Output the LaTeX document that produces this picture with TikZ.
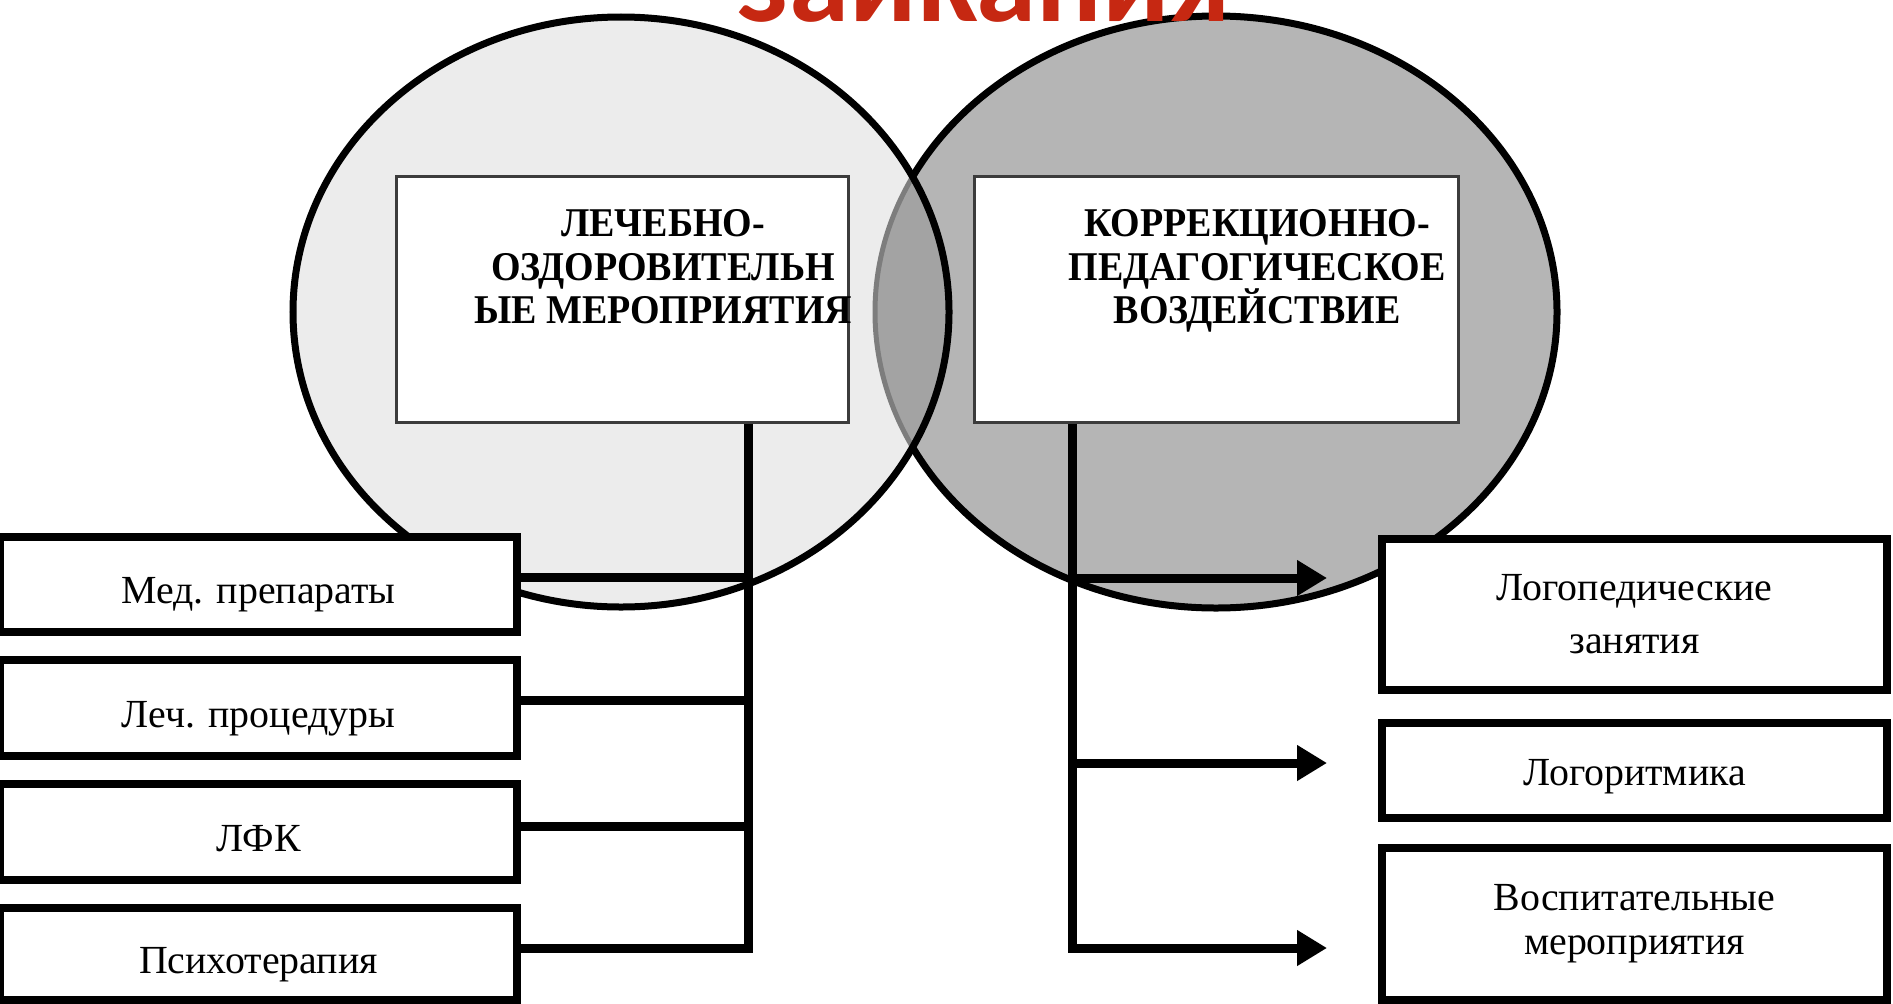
\documentclass[tikz,border=0pt]{standalone}
\usepackage{fontspec}
\setmainfont{Liberation Serif}
\newfontfamily\headfont[FakeStretch=0.93]{Liberation Serif}
\newfontfamily\titlefont{Carlito}
\usetikzlibrary{arrows.meta}
\definecolor{lightfill}{RGB}{236,236,236}
\definecolor{darkfill}{RGB}{181,181,181}
\definecolor{lensfill}{RGB}{163,163,163}
\definecolor{lensedge}{RGB}{125,125,125}
\definecolor{titlered}{RGB}{198,40,18}
\definecolor{framegray}{RGB}{60,60,60}
\tikzset{
  headbox/.style={draw=framegray, line width=3bp, fill=white, rectangle, inner sep=0pt},
  headtext/.style={align=center, inner sep=0pt, anchor=north,
    font=\headfont\bfseries\fontsize{41}{44}\selectfont},
  itembox/.style={draw=black, line width=8bp, fill=white, rectangle, inner sep=0pt,
    align=center, font=\fontsize{40}{48}\selectfont},
  lowtext/.style={text height=38bp, text depth=0bp},
  midtext/.style={text height=29bp, text depth=0bp},
  link/.style={draw=black, line width=9bp},
  arrowlink/.style={link, -{Triangle[length=30bp,width=34bp]}},
  outline/.style={draw=black, line width=7bp},
  leftell/.style={x radius=328bp, y radius=295bp},
  rightell/.style={x radius=341bp, y radius=296bp}
}
\begin{document}
\begin{tikzpicture}[x=1bp,y=-1bp]
\useasboundingbox (0,0) rectangle (1893,1003);
\clip (0,0) rectangle (1893,1003);

% two overlapping ellipses
\coordinate (lc) at (621,312);
\coordinate (rc) at (1216,312);
\fill[darkfill] (rc) ellipse [rightell];
\draw[outline] (rc) ellipse [rightell];
\fill[lightfill] (lc) ellipse [leftell];
\begin{scope}
  \clip (lc) ellipse [leftell];
  \fill[lensfill] (rc) ellipse [rightell];
  \draw[lensedge, line width=5bp] (rc) ellipse [rightell];
\end{scope}
\draw[outline] (lc) ellipse [leftell];

% title
\node[font=\titlefont\bfseries\fontsize{122}{122}\selectfont, text=titlered,
  anchor=base, inner sep=0pt] (title) at (984,21) {заикания};

% headings
\node[headbox, minimum width=452bp, minimum height=246bp] (hl) at (622,299) {};
\node[headbox, minimum width=484bp, minimum height=246bp] (hr) at (1216,299) {};
\node[headtext] (hlt) at (663,209) {ЛЕЧЕБНО-\\ОЗДОРОВИТЕЛЬН\\ЫЕ МЕРОПРИЯТИЯ};
\node[headtext] (hrt) at (1257,209) {КОРРЕКЦИОННО-\\ПЕДАГОГИЧЕСКОЕ\\ВОЗДЕЙСТВИЕ};

% left column
\node[itembox, lowtext, minimum width=517bp, minimum height=95bp] (m1) at (258.5,584.5) {Мед. препараты};
\node[itembox, lowtext, minimum width=517bp, minimum height=96bp] (m2) at (258.5,708) {Леч. процедуры};
\node[itembox, lowtext, minimum width=517bp, minimum height=96bp] (m3) at (258.5,832) {ЛФК};
\node[itembox, lowtext, minimum width=517bp, minimum height=92bp] (m4) at (258.5,954) {Психотерапия};

% right column
\node[itembox, minimum width=505bp, minimum height=151bp,
  font=\fontsize{40}{53}\selectfont] (r1) at (1634.5,614.5) {Логопедические\\занятия};
\node[itembox, midtext, minimum width=505bp, minimum height=95bp] (r2) at (1634.5,770.5) {Логоритмика};
\node[itembox, minimum width=505bp, minimum height=152bp,
  font=\fontsize{40}{44}\selectfont] (r3) at (1634.5,924) {Воспитательные\\мероприятия};

% left connectors
\coordinate (j1) at (748,577);
\coordinate (j2) at (748,700);
\coordinate (j3) at (748,826);
\coordinate (lbot) at (748,948);
\draw[link] (lbot |- hl.south) -- (lbot) -- (lbot -| m4.east);
\draw[link] (m1.east |- j1) -- (j1);
\draw[link] (m2.east |- j2) -- (j2);
\draw[link] (m3.east |- j3) -- (j3);

% right connectors
\coordinate (rbot) at (1072,948);
\coordinate (t1) at (1327,578);
\coordinate (t2) at (1327,763);
\coordinate (t3) at (1327,948);
\draw[arrowlink] (rbot |- hr.south) -- (rbot) -- (t3);
\draw[arrowlink] (rbot |- t1) -- (t1);
\draw[arrowlink] (rbot |- t2) -- (t2);
\end{tikzpicture}
\end{document}
